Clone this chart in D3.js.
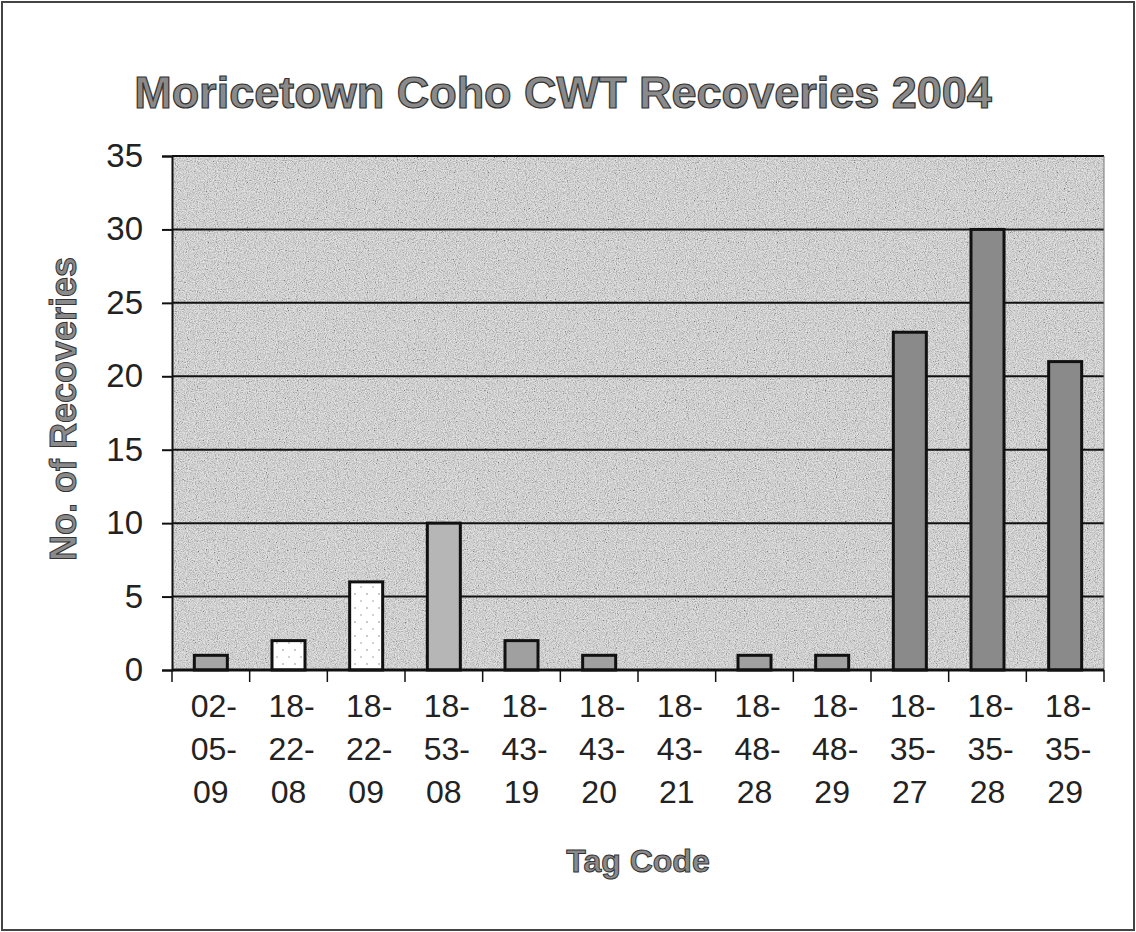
<!DOCTYPE html>
<html>
<head>
<meta charset="utf-8">
<script src="https://cdn.jsdelivr.net/npm/d3@7"></script>
<style>
  body { margin: 0; background: #fff; }
  svg { display: block; font-family: Arial, "Liberation Sans", sans-serif; }
</style>
</head>
<body>
<div id="chart"></div>
<script>
// chart data
const tagCodes = ['02-05-09', '18-22-08', '18-22-09', '18-53-08', '18-43-19', '18-43-20',
                  '18-43-21', '18-48-28', '18-48-29', '18-35-27', '18-35-28', '18-35-29'];
const recoveries = [1, 2, 6, 10, 2, 1, 0, 1, 1, 23, 30, 21];
const tagGroup = ['a', 'b', 'b', 'c', 'd', 'd', 'd', 'd', 'd', 'e', 'e', 'e'];
const yTicks = [0, 5, 10, 15, 20, 25, 30, 35];

const W = 1136, H = 932;
const margin = { top: 156, right: 32, bottom: 262, left: 172 };
const width = W - margin.left - margin.right,
      height = H - margin.top - margin.bottom;

const svg = d3.select('#chart').append('svg')
    .attr('width', W)
    .attr('height', H);

// speckled texture like the scanned excel fill
const defs = svg.append('defs');
const f = defs.append('filter').attr('id', 'speckle')
    .attr('x', 0).attr('y', 0).attr('width', '100%').attr('height', '100%');
f.append('feTurbulence').attr('type', 'fractalNoise').attr('baseFrequency', 0.9)
    .attr('numOctaves', 2).attr('seed', 4).attr('result', 'n');
f.append('feColorMatrix').attr('type', 'matrix')
    .attr('values', '1.8 0 0 0 -0.3  1.8 0 0 0 -0.3  1.8 0 0 0 -0.3  0 0 0 0 1');

const dots = defs.append('pattern').attr('id', 'dots')
    .attr('width', 12).attr('height', 14).attr('patternUnits', 'userSpaceOnUse');
dots.append('rect').attr('width', 12).attr('height', 14).attr('fill', '#fff');
dots.append('circle').attr('cx', 3).attr('cy', 4).attr('r', 0.8).attr('fill', '#888');
dots.append('circle').attr('cx', 9).attr('cy', 11).attr('r', 0.8).attr('fill', '#999');

// outer frame
svg.append('rect')
    .attr('x', 2).attr('y', 2).attr('width', W - 4).attr('height', H - 4)
    .attr('fill', 'none').attr('stroke', '#444').attr('stroke-width', 2);

const g = svg.append('g')
    .attr('transform', 'translate(' + margin.left + ',' + margin.top + ')');

const x = d3.scaleBand().domain(tagCodes).range([0, width])
    .paddingInner(0.575).paddingOuter(0.2875);
const y = d3.scaleLinear().domain([0, 35]).range([height, 0]);
const fill = d3.scaleOrdinal()
    .domain(['a', 'b', 'c', 'd', 'e'])
    .range(['#a6a6a6', 'url(#dots)', '#b6b6b6', '#a0a0a0', '#8a8a8a']);

// plot background
g.append('rect').attr('width', width).attr('height', height).attr('fill', '#d2d2d2');
g.append('rect').attr('width', width).attr('height', height)
    .attr('filter', 'url(#speckle)').attr('opacity', 0.42);

// gridlines
g.selectAll('.grid').data(yTicks.filter(d => d > 0)).enter().append('line')
    .attr('x1', 0).attr('x2', width)
    .attr('y1', d => y(d)).attr('y2', d => y(d))
    .attr('stroke', '#111').attr('stroke-width', 2);
g.append('line').attr('x1', width).attr('x2', width).attr('y1', 0).attr('y2', height)
    .attr('stroke', '#777').attr('stroke-width', 1);

// bars
g.selectAll('.bar').data(tagCodes).enter().append('rect')
    .attr('x', d => x(d))
    .attr('y', (d, i) => y(recoveries[i]))
    .attr('width', x.bandwidth())
    .attr('height', (d, i) => height - y(recoveries[i]))
    .attr('fill', (d, i) => fill(tagGroup[i]))
    .attr('stroke', (d, i) => recoveries[i] > 0 ? '#111' : 'none')
    .attr('stroke-width', 3);

// y axis
const yAxis = g.append('g')
    .call(d3.axisLeft(y).tickValues(yTicks).tickSize(10).tickPadding(19));
yAxis.select('.domain').attr('stroke', '#111').attr('stroke-width', 2);
yAxis.selectAll('.tick line').attr('stroke', '#111').attr('stroke-width', 2);
yAxis.selectAll('.tick text')
    .attr('font-size', 33).attr('fill', '#222')
    .attr('font-family', 'Arial, "Liberation Sans", sans-serif');

// x axis: ticks between categories
const xAxis = g.append('g').attr('transform', 'translate(0,' + height + ')');
xAxis.append('line').attr('x1', 0).attr('x2', width)
    .attr('stroke', '#111').attr('stroke-width', 3);
const bounds = d3.range(tagCodes.length + 1).map(i => i * x.step());
xAxis.selectAll('.xt').data(bounds).enter().append('line')
    .attr('x1', d => d).attr('x2', d => d)
    .attr('y1', 0).attr('y2', 12)
    .attr('stroke', '#111').attr('stroke-width', 1.5);

const labels = xAxis.selectAll('.xl').data(tagCodes).enter().append('text')
    .attr('text-anchor', 'middle')
    .attr('font-size', 32).attr('fill', '#222');
labels.each(function (d) {
    const parts = d.split('-');
    const t = d3.select(this);
    parts.forEach((p, j) => {
        t.append('tspan')
            .attr('x', x(d) + x.bandwidth() / 2 + (j < parts.length - 1 ? 3 : 0))
            .attr('y', 47 + j * 43)
            .text(j < parts.length - 1 ? p + '-' : p);
    });
});

// titles
svg.append('text')
    .attr('x', 563).attr('y', 108)
    .attr('text-anchor', 'middle')
    .attr('font-size', 45).attr('font-weight', 'bold')
    .attr('fill', '#8a8a8a').attr('stroke', '#333').attr('stroke-width', 1.2)
    .text('Moricetown Coho CWT Recoveries 2004');

svg.append('text')
    .attr('transform', 'translate(76,' + (margin.top + height / 2 - 4) + ') rotate(-90)')
    .attr('text-anchor', 'middle')
    .attr('font-size', 36).attr('font-weight', 'bold')
    .attr('fill', '#8a8a8a').attr('stroke', '#333').attr('stroke-width', 1)
    .text('No. of Recoveries');

svg.append('text')
    .attr('x', margin.left + width / 2).attr('y', 872)
    .attr('text-anchor', 'middle')
    .attr('font-size', 32).attr('font-weight', 'bold')
    .attr('fill', '#8a8a8a').attr('stroke', '#333').attr('stroke-width', 1)
    .text('Tag Code');
</script>
</body>
</html>
